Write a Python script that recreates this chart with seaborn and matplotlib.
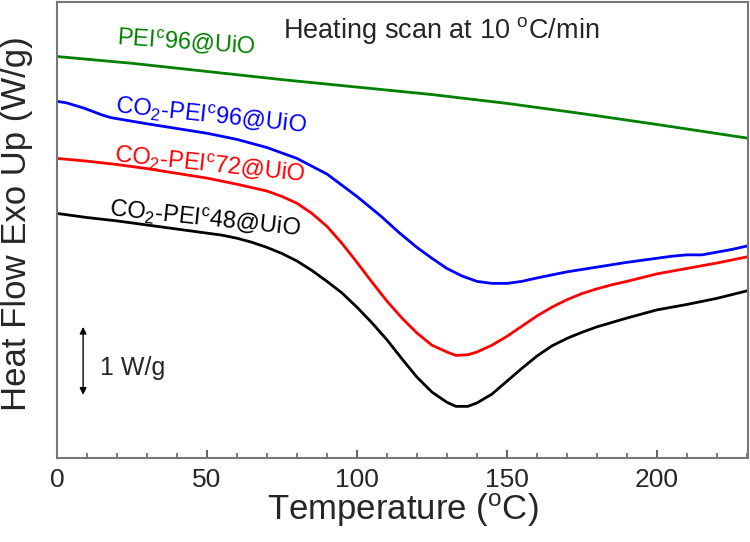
import numpy as np
import pandas as pd
import matplotlib
matplotlib.use("Agg")
import matplotlib.pyplot as plt
from matplotlib.ticker import MultipleLocator
import seaborn as sns

# readings: temperature (C) and heat flow (W/g, offset so bottom of frame = 0)
t_green = [0, 25, 50, 75, 100, 125, 150, 175, 200, 230]
hf_green = [5.91, 5.81, 5.69, 5.57, 5.46, 5.35, 5.22, 5.07, 4.91, 4.71]

t_blue = [0, 3, 6, 9, 12, 15, 18, 22, 26, 30, 40, 50, 60, 70, 80, 90, 100, 108, 114,
          120, 125, 130, 135, 140, 145, 150, 155, 160, 170, 180, 190, 200, 205, 210,
          215, 220, 225, 230]
hf_blue = [5.25, 5.23, 5.19, 5.15, 5.10, 5.05, 5.01, 4.98, 4.95, 4.92, 4.85, 4.78,
           4.69, 4.57, 4.41, 4.18, 3.85, 3.56, 3.32, 3.10, 2.94, 2.79, 2.68, 2.60,
           2.57, 2.57, 2.60, 2.65, 2.74, 2.81, 2.88, 2.94, 2.97, 2.99, 2.99, 3.03,
           3.07, 3.12]

t_red = [0, 10, 20, 30, 40, 50, 60, 70, 75, 80, 85, 90, 95, 100, 105, 110, 115, 120,
         125, 130, 133, 137, 140, 145, 150, 155, 160, 165, 170, 175, 180, 185, 190,
         200, 210, 220, 230]
hf_red = [4.41, 4.37, 4.32, 4.26, 4.19, 4.12, 4.03, 3.93, 3.85, 3.75, 3.60, 3.41,
          3.16, 2.88, 2.59, 2.31, 2.06, 1.84, 1.66, 1.56, 1.51, 1.52, 1.56, 1.66,
          1.79, 1.94, 2.09, 2.22, 2.33, 2.42, 2.49, 2.55, 2.60, 2.71, 2.79, 2.87,
          2.96]

t_black = [0, 10, 20, 30, 40, 50, 55, 60, 65, 70, 75, 80, 85, 90, 95, 100, 105, 110,
           115, 120, 125, 130, 133, 137, 140, 145, 150, 155, 160, 165, 170, 175, 180,
           190, 200, 210, 220, 230]
hf_black = [3.60, 3.54, 3.49, 3.43, 3.37, 3.31, 3.28, 3.235, 3.175, 3.10, 3.01, 2.90,
            2.76, 2.60, 2.43, 2.22, 1.99, 1.74, 1.46, 1.19, 0.97, 0.82, 0.76, 0.76,
            0.81, 0.94, 1.13, 1.32, 1.50, 1.65, 1.76, 1.85, 1.93, 2.06, 2.18, 2.26,
            2.35, 2.46]

series = [
    (t_green, hf_green, "#008000"),
    (t_blue, hf_blue, "#0000ff"),
    (t_red, hf_red, "#ff0000"),
    (t_black, hf_black, "#000000"),
]

sns.set_style("ticks")
plt.rcParams["font.family"] = ["Liberation Sans", "DejaVu Sans"]
plt.rcParams["mathtext.fontset"] = "custom"
plt.rcParams["mathtext.rm"] = "Liberation Sans"
plt.rcParams["mathtext.it"] = "Liberation Sans"

fig = plt.figure(figsize=(7.5, 5.42), dpi=100)
ax = fig.add_axes([0.076, 0.155, 0.921, 0.841])

for t, hf, col in series:
    df = pd.DataFrame({"T": t, "HF": hf})
    sns.lineplot(data=df, x="T", y="HF", color=col, lw=2, ax=ax)

ax.set_xlim(0, 230.3)
ax.set_ylim(0, 6.71)
ax.xaxis.set_major_locator(MultipleLocator(50))
ax.xaxis.set_minor_locator(MultipleLocator(10))
ax.tick_params(axis="x", which="major", direction="in", length=6, width=1.3,
               labelsize=19, pad=7, color="#555555")
ax.tick_params(axis="x", which="minor", direction="in", length=3.5, width=1.1,
               color="#555555")
ax.set_yticks([])
for s in ax.spines.values():
    s.set_color("#777777")
    s.set_linewidth(1.5)

ax.set_xlabel("Temperature ($\\mathregular{^o}$C)", fontsize=25, labelpad=0)
ax.set_ylabel("Heat Flow Exo Up (W/g)", fontsize=25)
ax.yaxis.set_label_coords(-0.035, 0.515)

ax.text(128, 6.29, "Heating scan at 10 $\\mathregular{^o}$C/min", fontsize=19.5,
        ha="center", va="center")

lab_kw = dict(fontsize=17, ha="center", va="center", rotation_mode="anchor")
ax.text(43, 6.12, "PEI$\\mathregular{^c}$96@UiO", color="#008000", rotation=-4, **lab_kw)
ax.text(51.5, 5.05, "CO$\\mathregular{_2}$-PEI$\\mathregular{^c}$96@UiO", color="#0000ff",
        rotation=-6, **lab_kw)
ax.text(51, 4.32, "CO$\\mathregular{_2}$-PEI$\\mathregular{^c}$72@UiO", color="#ff0000",
        rotation=-6, **lab_kw)
ax.text(49.5, 3.53, "CO$\\mathregular{_2}$-PEI$\\mathregular{^c}$48@UiO", color="#000000",
        rotation=-6, **lab_kw)

# 1 W/g scale bar
ax.annotate("", xy=(8.7, 0.93), xytext=(8.7, 1.93),
            arrowprops=dict(arrowstyle="<|-|>", color="black", lw=1,
                            mutation_scale=10, shrinkA=0, shrinkB=0))
ax.text(14.3, 1.32, "1 W/g", fontsize=18, ha="left", va="center")

fig.savefig("out.png", dpi=100)
